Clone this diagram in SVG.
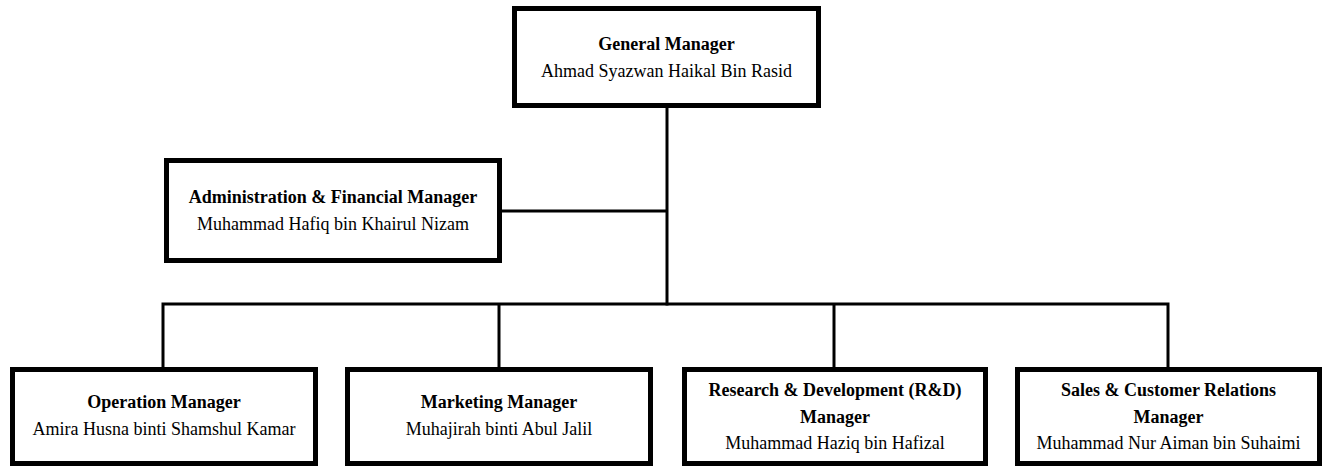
<svg xmlns="http://www.w3.org/2000/svg" width="1324" height="466" viewBox="0 0 1324 466">
<style>
.box{fill:#fff;stroke:#000;stroke-width:5}
.ln{stroke:#000;stroke-width:3;fill:none}
text{font-family:"Liberation Serif","Times New Roman",serif;font-size:18px;fill:#000;text-anchor:middle}
.t{font-weight:bold}
</style>
<rect width="1324" height="466" fill="#fff"/>
<g id="connectors">
<line class="ln" x1="667" y1="108" x2="667" y2="305.5"/>
<line class="ln" x1="502" y1="211" x2="667" y2="211"/>
<polyline class="ln" points="163,367 163,304 1168,304 1168,367"/>
<line class="ln" x1="499" y1="304" x2="499" y2="367"/>
<line class="ln" x1="834" y1="304" x2="834" y2="367"/>
</g>
<g id="gm">
<rect class="box" x="514.5" y="8.5" width="304" height="97"/>
<text class="t" x="666.5" y="50">General Manager</text>
<text x="666.5" y="77">Ahmad Syazwan Haikal Bin Rasid</text>
</g>
<g id="admin">
<rect class="box" x="166.5" y="160.5" width="333" height="100"/>
<text class="t" x="333" y="203">Administration &amp; Financial Manager</text>
<text x="333" y="230">Muhammad Hafiq bin Khairul Nizam</text>
</g>
<g id="operation">
<rect class="box" x="12.5" y="369.5" width="303" height="94"/>
<text class="t" x="164" y="408">Operation Manager</text>
<text x="164" y="435">Amira Husna binti Shamshul Kamar</text>
</g>
<g id="marketing">
<rect class="box" x="347.5" y="369.5" width="303" height="94"/>
<text class="t" x="499" y="408">Marketing Manager</text>
<text x="499" y="435">Muhajirah binti Abul Jalil</text>
</g>
<g id="rnd">
<rect class="box" x="684.5" y="369.5" width="301" height="94"/>
<text class="t" x="835" y="396">Research &amp; Development (R&amp;D)</text>
<text class="t" x="835" y="423">Manager</text>
<text x="835" y="449">Muhammad Haziq bin Hafizal</text>
</g>
<g id="sales">
<rect class="box" x="1017.5" y="369.5" width="302" height="94"/>
<text class="t" x="1168.5" y="396">Sales &amp; Customer Relations</text>
<text class="t" x="1168.5" y="423">Manager</text>
<text x="1168.5" y="449">Muhammad Nur Aiman bin Suhaimi</text>
</g>
</svg>
